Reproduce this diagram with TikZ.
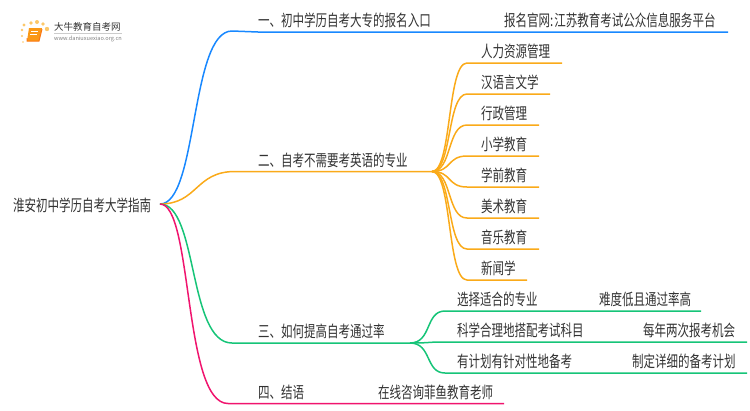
\documentclass[tikz,border=0pt]{standalone}
\usepackage{fontspec}
\setmainfont[FakeStretch=0.72]{Noto Sans CJK SC}
\newfontfamily\logofont{Noto Sans CJK SC}
\definecolor{Bl}{RGB}{24, 136, 255}
\definecolor{Or}{RGB}{250, 170, 25}
\definecolor{Gr}{RGB}{22, 196, 120}
\definecolor{Rd}{RGB}{240, 20, 110}
\definecolor{Tx}{RGB}{50, 50, 50}
\tikzset{
  lab/.style={anchor=south west, inner sep=0pt, outer sep=0pt, align=left, text=Tx, font=\fontsize{16}{16}\selectfont, text height=15pt, text depth=5.5pt},
  con/.style={line width=1.5pt},
  dot/.style={fill=Or!65!white, draw=none}
}
\begin{document}
\begin{tikzpicture}[x=1pt,y=-1pt]
  \useasboundingbox (0,0) rectangle (750,410);
  % logo
  \foreach \px/\py/\r in {47/29/2.2,43/24/1.8,37/22/2,31/23/1.9,24/25/1.6,22/30/1.3,22/36/1.1,23/42/.9}
    \fill[dot] (\px,\py) circle (\r);
  \fill[Or!90!red] (29,28) -- (42,28) -- (39,41) -- (27,41) -- cycle;
  \draw[Or!70!red, line width=1pt] (27,38) -- (27,41) -- (39,41) -- (42,29);
  \draw[white, line width=.5pt] (31,31) -- (38,31) (30,34) -- (37,34);
  \node[inner sep=0pt, anchor=west, text=Tx] (logotitle) at (54,27) {\logofont\fontsize{9.5}{10}\selectfont 大牛教育自考网};
  \node[inner sep=0pt, anchor=west, text=gray] (logourl) at (54,39) {\logofont\fontsize{5.6}{6}\selectfont www.daniuxuexiao.org.cn};
  \draw[gray!40, line width=.4pt] (54,33) -- (122,33);
  % root
  \node[lab, anchor=west, text depth=0pt] (root) at (13,204) {淮安初中学历自考大学指南};
  % first level
  \node[lab, text width=237pt] (one) at (258,32) {一、初中学历自考大专的报名入口};
  \node[lab, text width=174pt] (two) at (258,171.5) {二、自考不需要考英语的专业};
  \node[lab, text width=152pt] (three) at (258,343) {三、如何提高自考通过率};
  \node[lab, text width=90pt] (four) at (258,403.5) {四、结语};
  \node[lab, text width=224pt] (oneb) at (504,32) {\frenchspacing\spaceskip=1pt\relax 报名官网: 江苏教育考试公众信息服务平台};
  \node[lab, text width=126pt] (fourb) at (378,403.5) {在线咨询菲鱼教育老师};
  % majors
  \node[lab, text width=81pt] (m1) at (481,63) {人力资源管理};
  \node[lab, text width=69pt] (m2) at (481,94) {汉语言文学};
  \node[lab, text width=58pt] (m3) at (481,125) {行政管理};
  \node[lab, text width=58pt] (m4) at (481,156) {小学教育};
  \node[lab, text width=58pt] (m5) at (481,187) {学前教育};
  \node[lab, text width=58pt] (m6) at (481,218) {美术教育};
  \node[lab, text width=58pt] (m7) at (481,249) {音乐教育};
  \node[lab, text width=46pt] (m8) at (481,280) {新闻学};
  % tips
  \node[lab, text width=130pt] (t1) at (457,311) {选择适合的专业};
  \node[lab, text width=130pt] (t2) at (457,342) {科学合理地搭配考试科目};
  \node[lab, text width=130pt] (t3) at (457,373) {有计划有针对性地备考};
  \node[lab, text width=102pt] (t1b) at (599,311) {难度低且通过率高};
  \node[lab, text width=104pt] (t2b) at (643,342) {每年两次报考机会};
  \node[lab, text width=115pt] (t3b) at (632,373) {制定详细的备考计划};
  % branches
  \coordinate (rt) at (160,204);
  \draw[con, Bl] (rt) .. controls (198,204) and (190,31) .. (232,31) -- (one.south west) -- (one.south east) -- (oneb.south west) -- (oneb.south east);
  \draw[con, Or] (rt) .. controls (198,204) and (195,171.5) .. (235,171.5) -- (two.south west) -- (two.south east) coordinate (twoe);
  \draw[con, Gr] (rt) .. controls (198,204) and (188,343) .. (232,343) -- (three.south west) -- (three.south east) coordinate (threee);
  \draw[con, Rd] (rt) .. controls (193,204) and (183,403.5) .. (228,403.5) -- (four.south west) -- (four.south east) -- (fourb.south west) -- (fourb.south east);
  % majors lines
  \foreach \n in {m1,m2,m3,m4,m5,m6,m7,m8}
    \draw[con, Or] (twoe) .. controls +(20,0) and ([xshift=-34pt]\n.south west) .. ([xshift=-14pt]\n.south west) -- (\n.south east);
  % tips lines
  \foreach \n/\m in {t1/t1b,t2/t2b,t3/t3b}
    \draw[con, Gr] (threee) .. controls +(22,0) and ([xshift=-32pt]\n.south west) .. ([xshift=-12pt]\n.south west) -- (\m.south east);
\end{tikzpicture}
\end{document}
